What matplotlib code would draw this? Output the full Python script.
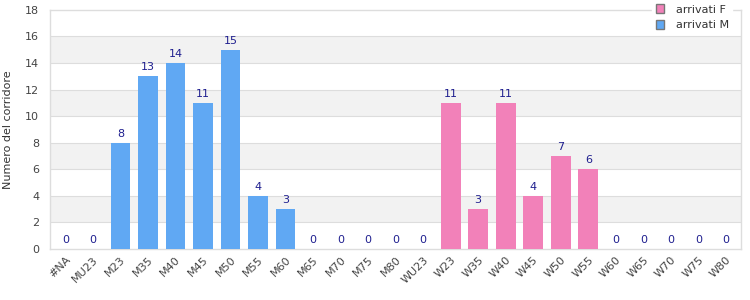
import numpy as np
import matplotlib
matplotlib.use("Agg")
import matplotlib.pyplot as plt
from matplotlib.patches import Patch

categorie = ['#NA', 'MU23', 'M23', 'M35', 'M40', 'M45', 'M50', 'M55', 'M60', 'M65',
             'M70', 'M75', 'M80', 'WU23', 'W23', 'W35', 'W40', 'W45', 'W50', 'W55',
             'W60', 'W65', 'W70', 'W75', 'W80']
arrivatiM = [0, 0, 8, 13, 14, 11, 15, 4, 3, 0, 0, 0, 0, 0, 0, 0, 0, 0, 0, 0, 0, 0, 0, 0, 0]
arrivatiF = [0, 0, 0, 0, 0, 0, 0, 0, 0, 0, 0, 0, 0, 0, 11, 3, 11, 4, 7, 6, 0, 0, 0, 0, 0]

colM = '#60a8f3'
colF = '#f281b9'

fig = plt.figure(figsize=(7.5, 3), dpi=100)
ax = fig.add_axes([0.067, 0.17, 0.921, 0.797])

x = np.arange(len(categorie))
ax.bar(x, arrivatiM, width=0.72, color=colM, zorder=3)
ax.bar(x, arrivatiF, width=0.72, color=colF, bottom=arrivatiM, zorder=3)

# bande alternate
for y0 in range(0, 18, 2):
    if (y0 // 2) % 2 == 1:
        ax.axhspan(y0, y0 + 2, color='#f2f2f2', zorder=0, lw=0)
for y0 in range(2, 18, 2):
    ax.axhline(y0, color='#dddddd', lw=0.8, zorder=1)

# etichette valori
totali = [m + f for m, f in zip(arrivatiM, arrivatiF)]
for xi, t in zip(x, totali):
    ax.text(xi, t + 0.3, str(t), ha='center', va='bottom', fontsize=8,
            color='#1f1f8f', zorder=4)

ax.set_xlim(-0.55, len(categorie) - 0.45)
ax.set_ylim(0, 18)
ax.set_yticks(range(0, 19, 2))
ax.set_xticks(x)
ax.set_xticklabels(categorie, rotation=45, ha='right', rotation_mode='anchor')
ax.tick_params(axis='both', length=0, labelsize=8, labelcolor='#444444')
ax.tick_params(axis='x', pad=4)
ax.tick_params(axis='y', pad=8)
for s in ax.spines.values():
    s.set_color('#dddddd')
    s.set_linewidth(1)
ax.set_ylabel('Numero del corridore', fontsize=8, color='#333333', labelpad=9)

handles = [Patch(facecolor=colF, edgecolor='#777777', label='arrivati F'),
           Patch(facecolor=colM, edgecolor='#777777', label='arrivati M')]
leg = ax.legend(handles=handles, loc='upper right', bbox_to_anchor=(0.995, 1.06),
                fontsize=8, frameon=True, fancybox=False, framealpha=1,
                edgecolor='white', handlelength=0.8, handleheight=0.8,
                handletextpad=1.0, labelspacing=0.5, borderpad=0.3)
for t in leg.get_texts():
    t.set_color('#333333')
leg.set_zorder(10)

fig.savefig('out.png', dpi=100)
